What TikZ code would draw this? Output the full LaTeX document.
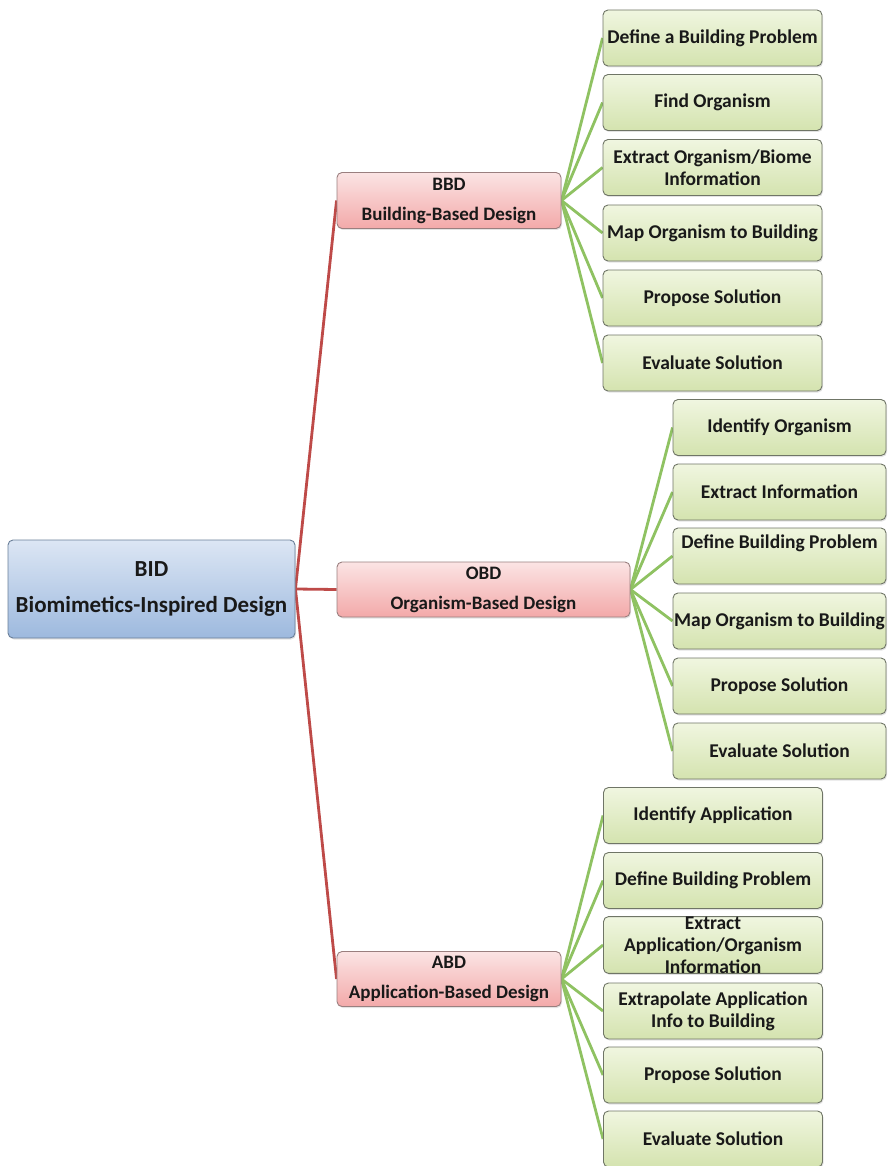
\documentclass[tikz,border=0pt]{standalone}
\usepackage{fontspec}
\setmainfont{Carlito}
\usetikzlibrary{shadows,backgrounds}

\definecolor{rootTop}{HTML}{DCE6F4}
\definecolor{rootBot}{HTML}{9DB9DE}
\definecolor{rootEdge}{HTML}{6A7F99}
\definecolor{pinkTop}{HTML}{FBE4E4}
\definecolor{pinkBot}{HTML}{F3A9A9}
\definecolor{pinkEdge}{HTML}{9A7F7F}
\definecolor{greenTop}{HTML}{F0F6E0}
\definecolor{greenBot}{HTML}{D4E3AF}
\definecolor{greenEdge}{HTML}{6F7566}
\definecolor{branchRed}{HTML}{BE4A48}
\definecolor{branchGreen}{HTML}{8FC262}

\tikzset{
  box/.style={draw, line width=0.9pt, rounded corners=5pt, align=center,
    inner sep=0pt, text=black!90,
    drop shadow={opacity=0.22, shadow xshift=1pt, shadow yshift=-1.5pt}},
  rootbox/.style={box, draw=rootEdge, top color=rootTop, bottom color=rootBot,
    minimum width=287pt, minimum height=98pt,
    font=\bfseries\fontsize{23}{27}\selectfont},
  methodbox/.style={box, draw=pinkEdge, top color=pinkTop, bottom color=pinkBot,
    minimum height=56pt, font=\bfseries\fontsize{19}{22}\selectfont},
  stepbox/.style={box, draw=greenEdge, top color=greenTop, bottom color=greenBot,
    minimum height=56pt, font=\bfseries\fontsize{19.5}{22}\selectfont},
  leftstep/.style={stepbox, minimum width=219pt},
  midstep/.style={stepbox, minimum width=213pt},
  redbranch/.style={draw=branchRed, line width=2.8pt},
  greenbranch/.style={draw=branchGreen, line width=2.8pt},
}

\begin{document}
\begin{tikzpicture}[x=1pt, y=-1pt]
\useasboundingbox (0,0) rectangle (887,1166);

% root
\node[rootbox] (bid) at (151.5,589) {BID\\[9pt]Biomimetics-Inspired Design};

% three design approaches
\node[methodbox, minimum width=224pt] (bbd) at (449,200.5) {BBD\\[8pt]Building-Based Design};
\node[methodbox, minimum width=293pt, minimum height=55pt] (obd) at (483.5,589.5) {OBD\\[8pt]Organism-Based Design};
\node[methodbox, minimum width=224pt, minimum height=55pt] (abd) at (449,979) {ABD\\[8pt]Application-Based Design};

% building-based steps
\node[leftstep] (b1) at (712.5,38) {Define a Building Problem};
\node[leftstep] (b2) at (712.5,102.5) {Find Organism};
\node[leftstep] (b3) at (712.5,167.5) {Extract Organism/Biome\\Information};
\node[leftstep] (b4) at (712.5,233) {Map Organism to Building};
\node[leftstep] (b5) at (712.5,298) {Propose Solution};
\node[leftstep] (b6) at (712.5,363) {Evaluate Solution};

% organism-based steps
\node[midstep] (o1) at (779.5,427.5) {Identify Organism};
\node[midstep] (o2) at (779.5,492) {Extract Information};
\node[midstep] (o3) at (779.5,556) {Define Building Problem\\[6pt]~};
\node[midstep] (o4) at (779.5,621) {Map Organism to Building};
\node[midstep] (o5) at (779.5,686) {Propose Solution};
\node[midstep] (o6) at (779.5,751) {Evaluate Solution};

% application-based steps
\node[leftstep] (a1) at (713,815.5) {Identify Application};
\node[leftstep] (a2) at (713,880.5) {Define Building Problem};
\node[leftstep] (a3) at (713,945) {Extract\\Application/Organism\\Information};
\node[leftstep] (a4) at (713,1011) {Extrapolate Application\\Info to Building};
\node[leftstep] (a5) at (713,1075) {Propose Solution};
\node[leftstep] (a6) at (713,1139) {Evaluate Solution};

% connectors
\begin{scope}[on background layer]
  \foreach \m in {bbd,obd,abd}
    \draw[redbranch] (bid.east) -- (\m.west);
  \foreach \s in {b1,b2,b3,b4,b5,b6}
    \draw[greenbranch] (bbd.east) -- (\s.west);
  \foreach \s in {o1,o2,o3,o4,o5,o6}
    \draw[greenbranch] (obd.east) -- (\s.west);
  \foreach \s in {a1,a2,a3,a4,a5,a6}
    \draw[greenbranch] (abd.east) -- (\s.west);
\end{scope}
\end{tikzpicture}
\end{document}
